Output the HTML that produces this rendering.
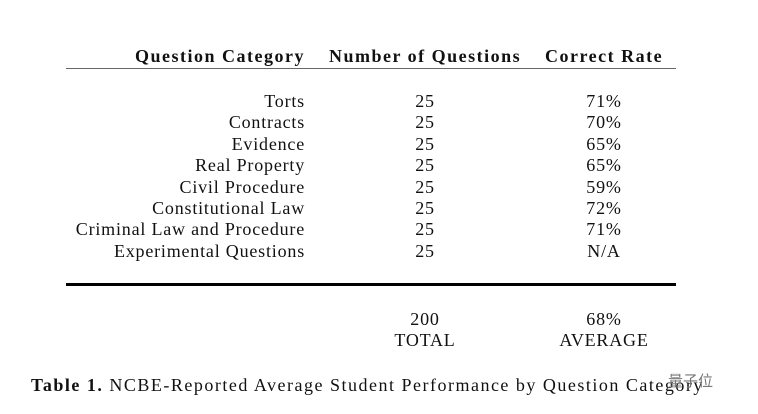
<!DOCTYPE html>
<html><head><meta charset="utf-8"><style>
body{margin:0;width:758px;height:414px;background:#fff;position:relative;overflow:hidden;font-family:"Liberation Serif",serif;color:#111;font-size:18px}
.t{position:absolute;white-space:nowrap;line-height:20px;letter-spacing:0.8px}
.r{text-align:right}
.c{text-align:center;width:140px}
.h{font-weight:bold;letter-spacing:1.5px}
</style></head><body>
<div class="t r h" style="right:453px;top:46px">Question Category</div>
<div class="t h" style="left:329px;top:46px">Number of Questions</div>
<div class="t h" style="left:545px;top:46px">Correct Rate</div>
<div style="position:absolute;left:66px;top:68px;width:610px;height:1px;background:#666"></div>
<div id="rows"></div>
<div style="position:absolute;left:66px;top:283px;width:610px;height:3px;background:#000"></div>
<div class="t c" style="left:355px;top:309px">200</div>
<div class="t c" style="left:355px;top:330px">TOTAL</div>
<div class="t c" style="left:534px;top:309px">68%</div>
<div class="t c" style="left:534px;top:330px">AVERAGE</div>
<div class="t" style="left:31px;top:375px;letter-spacing:1.5px"><b>Table 1.</b> NCBE-Reported Average Student Performance by Question Category</div>
<div class="t" style="left:668px;top:371px;font-family:'Noto Sans CJK SC',sans-serif;color:#777;font-size:15px;letter-spacing:0">量子位</div>
<script>
const categories=["Torts","Contracts","Evidence","Real Property","Civil Procedure","Constitutional Law","Criminal Law and Procedure","Experimental Questions"];
const counts=["25","25","25","25","25","25","25","25"];
const rates=["71%","70%","65%","65%","59%","72%","71%","N/A"];
const box=document.getElementById('rows');
categories.forEach((c,i)=>{
 const top=91+i*21.4;
 const a=document.createElement('div');a.className='t r';a.style.right='453px';a.style.top=top+'px';a.textContent=c;
 
 
 const b=document.createElement('div');b.className='t c';b.style.left='355px';b.style.top=top+'px';b.textContent=counts[i];
 
 
 const d=document.createElement('div');d.className='t c';d.style.left='534px';d.style.top=top+'px';d.textContent=rates[i];
 
 
 box.append(a,b,d);
});
</script>
</body></html>
